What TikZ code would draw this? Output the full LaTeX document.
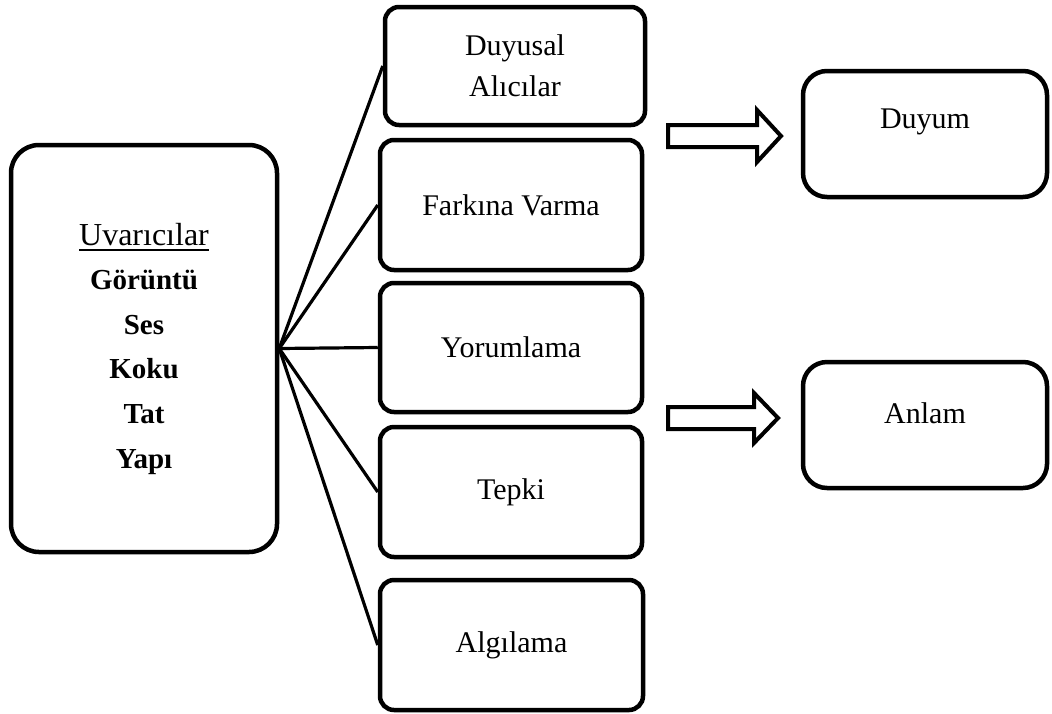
\documentclass[tikz,border=0pt]{standalone}
\usepackage{fontspec}
\setmainfont{Liberation Serif}
% underline with a heavier rule
\newcommand{\thickunder}[1]{\setbox0\hbox{#1}\rlap{\raisebox{-6pt}{\rule{\wd0}{2pt}}}\box0}
\begin{document}
\begin{tikzpicture}[x=1pt,y=-1pt,
  box/.style={draw, line width=4.5pt, rounded corners=14pt, inner sep=0pt,
    font=\fontsize{30}{41}\selectfont, align=center},
  bigbox/.style={box, rounded corners=28pt},
  sidebox/.style={box, rounded corners=24pt},
  txt/.style={font=\fontsize{30}{41}\selectfont, inner sep=0pt},
  link/.style={line width=3.2pt},
  blockarrow/.style={draw, line width=4pt, line join=miter}]
\useasboundingbox (0,0) rectangle (1052,713);

% stimuli box
\node[bigbox, minimum width=266pt, minimum height=407pt,
  font=\fontsize{29}{44.6}\selectfont] (stim) at (144,348.5)
  {{\fontsize{32}{44.6}\selectfont\thickunder{Uvarıcılar}}\\ \textbf{Görüntü}\\ \textbf{Ses}\\ \textbf{Koku}\\ \textbf{Tat}\\ \textbf{Yapı}};

% process boxes
\node[box, minimum width=260pt, minimum height=118pt] (m1) at (515,66) {Duyusal\\Alıcılar};
\node[box, minimum width=262pt, minimum height=130pt] (m2) at (511,205) {Farkına Varma};
\node[box, minimum width=262pt, minimum height=129pt] (m3) at (511,347.5) {Yorumlama};
\node[box, minimum width=262pt, minimum height=130pt] (m4) at (511,492) {Tepki};
\node[box, minimum width=263pt, minimum height=130pt] (m5) at (511.5,645) {Algılama};

% result boxes
\node[sidebox, minimum width=244pt, minimum height=126pt] (r1) at (925,134) {};
\node[txt] (r1t) at (925,122) {Duyum};
\node[sidebox, minimum width=244pt, minimum height=126pt] (r2) at (925,425) {};
\node[txt] (r2t) at (925,413) {Anlam};

% connectors
\foreach \m in {m1,m2,m3,m4,m5}
  \draw[link] (stim.east) -- (\m.west);

% block arrows
\draw[blockarrow] (668,125) -- (757,125) -- (757,110) -- (781,136)
  -- (757,162) -- (757,147) -- (668,147) -- cycle;
\draw[blockarrow] (668,407) -- (754,407) -- (754,393) -- (778,418)
  -- (754,443) -- (754,429) -- (668,429) -- cycle;
\end{tikzpicture}
\end{document}
